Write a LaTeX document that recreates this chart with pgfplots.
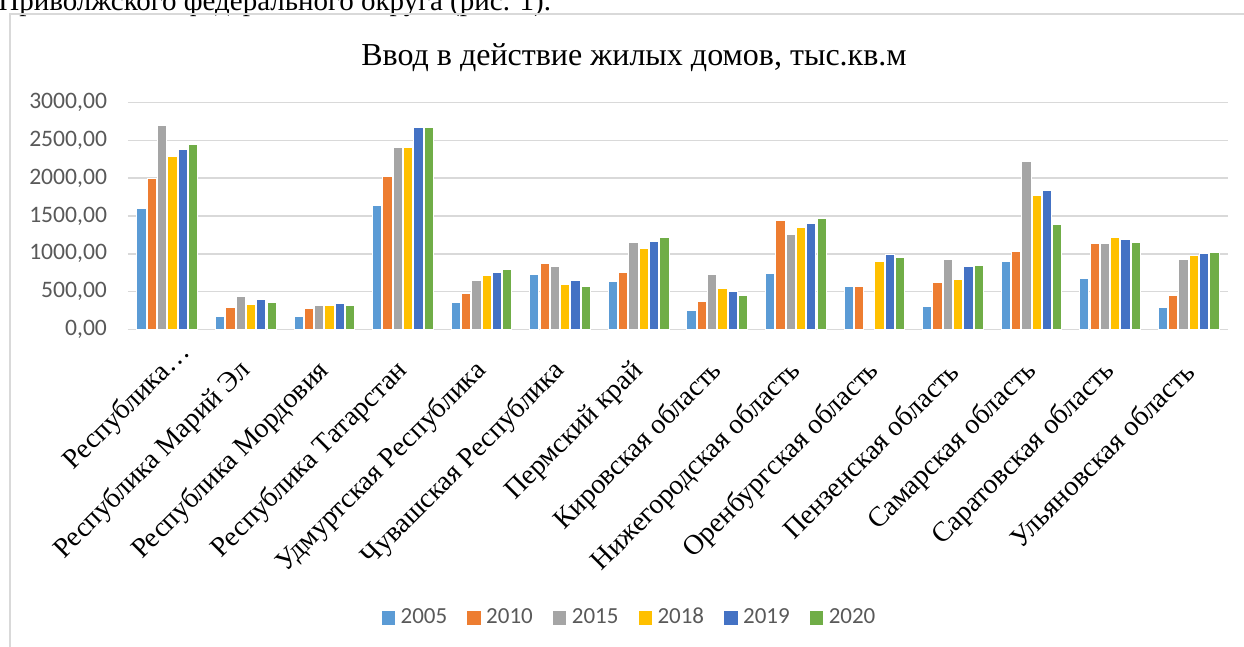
\documentclass[border=0pt]{standalone}
\usepackage{fontspec}
\setmainfont{Liberation Serif}
\newfontfamily\calibri{Carlito}
\usepackage{pgfplots}
\usepackage{pgfplotstable}
\pgfplotsset{compat=1.18}
\definecolor{cA}{HTML}{5B9BD5}
\definecolor{cB}{HTML}{ED7D31}
\definecolor{cC}{HTML}{A5A5A5}
\definecolor{cD}{HTML}{FFC000}
\definecolor{cE}{HTML}{4472C4}
\definecolor{cF}{HTML}{70AD47}
\definecolor{gridc}{HTML}{D9D9D9}
\definecolor{txtg}{HTML}{595959}
\pgfplotstableread{
idx y05 y10 y15 y18 y19 y20
0 1602 2003 2692 2285 2374 2453
1 167 291 428 322 388 361
2 167 278 309 318 335 309
3 1637 2026 2405 2410 2675 2678
4 357 472 640 706 750 794
5 723 869 825 587 649 564
6 630 755 1147 1076 1165 1209
7 246 371 719 543 498 445
8 745 1447 1253 1345 1407 1470
9 569 573 nan 900 988 957
10 305 613 922 653 829 842
11 900 1033 2215 1778 1840 1394
12 675 1133 1133 1209 1192 1152
13 282 454 927 975 1010 1023
}\datatable
\begin{document}
\begin{tikzpicture}
\path[use as bounding box] (0pt,0pt) rectangle (622pt,323.5pt);
\clip (0pt,0pt) rectangle (622pt,323.5pt);
\node[anchor=base west, inner sep=0pt, font=\fontsize{14.5}{16}\selectfont] at (-1pt,318pt) {Приволжского федерального округа (рис. 1).};
\draw[gridc, line width=0.75pt] (5pt,316.5pt) rectangle (640pt,-10pt);
\node[anchor=base, inner sep=0pt, font=\fontsize{16}{19}\selectfont] at (317pt,290.5pt) {Ввод в действие жилых домов, тыс.кв.м};
\begin{axis}[
  at={(64pt,158.85pt)}, anchor=south west,
  scale only axis, width=550pt, height=113.3pt,
  xmin=-0.5, xmax=13.5, ymin=0, ymax=3000,
  ybar=0.55pt, bar width=4.6pt,
  axis y line*=left,
  axis x line*=bottom,
  y axis line style={draw=none},
  x axis line style={gridc, line width=0.75pt, -},
  ymajorgrids, major grid style={gridc, line width=0.75pt},
  ytick={0,500,...,3000},
  ytick style={draw=none}, xtick style={draw=none},
  yticklabel style={font=\calibri\fontsize{11.8}{13}\selectfont, text=txtg, xshift=-7pt},
  /pgf/number format/.cd, fixed, fixed zerofill, precision=2, use comma, 1000 sep={}, assume math mode=true,
  /pgfplots/.cd,
  xtick={0,...,13},
  xticklabels={Республика…\hspace*{-12.8pt}, Республика Марий Эл, Республика Мордовия, Республика Татарстан, Удмуртская Республика, Чувашская Республика, Пермский край, Кировская область, Нижегородская область, Оренбургская область, Пензенская область, Самарская область, Саратовская область, Ульяновская область},
  xticklabel style={xshift=0.4pt, yshift=-14.5pt, rotate=45, anchor=east, inner sep=0pt, font=\fontsize{14}{16}\selectfont},
  clip=false,
  legend columns=6,
  legend style={at={(0.455,-1.265)}, anchor=center, draw=none, fill=none, inner sep=0pt,
    font=\calibri\fontsize{11.5}{13}\selectfont, text=txtg,
    nodes={inner sep=0pt, text height=8pt, text depth=0pt, anchor=base west},
    /tikz/every odd column/.append style={column sep=2.8pt},
    /tikz/every even column/.append style={column sep=10pt}},
  legend image code/.code={\fill[#1, draw=none] (0pt,-0.6pt) rectangle (6.7pt,6.1pt);},
  every axis plot/.append style={draw=white, line width=0.5pt},
]
\addplot[fill=cA] table[x=idx, y=y05] {\datatable};
\addplot[fill=cB] table[x=idx, y=y10] {\datatable};
\addplot[fill=cC] table[x=idx, y=y15] {\datatable};
\addplot[fill=cD] table[x=idx, y=y18] {\datatable};
\addplot[fill=cE] table[x=idx, y=y19] {\datatable};
\addplot[fill=cF] table[x=idx, y=y20] {\datatable};
\legend{2005,2010,2015,2018,2019,2020}
\end{axis}
\end{tikzpicture}
\end{document}
